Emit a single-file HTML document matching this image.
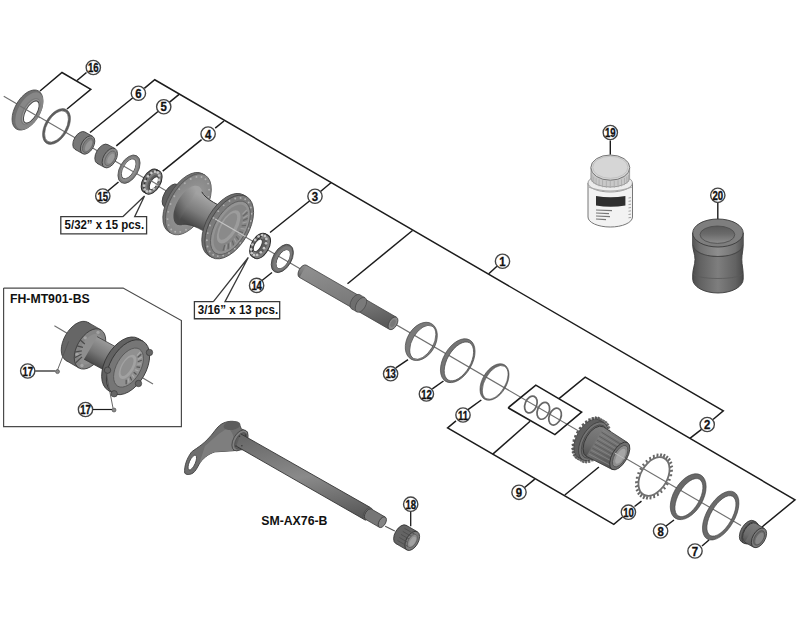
<!DOCTYPE html>
<html><head><meta charset="utf-8"><style>
html,body{margin:0;padding:0;background:#fff;}
svg{display:block;}
text{font-family:"Liberation Sans",sans-serif;font-weight:bold;fill:#111;}
</style></head><body>
<svg width="800" height="617" viewBox="0 0 800 617">
<defs>
<linearGradient id="gbar" x1="0.3" y1="0" x2="0.7" y2="1"><stop offset="0" stop-color="#9a9a9a"/><stop offset="0.5" stop-color="#7a7a7a"/><stop offset="1" stop-color="#4a4a4a"/></linearGradient>
<linearGradient id="gax" x1="0.3" y1="0" x2="0.6" y2="1"><stop offset="0" stop-color="#8e8e8e"/><stop offset="0.6" stop-color="#7a7a7a"/><stop offset="1" stop-color="#5a5a5a"/></linearGradient>
<linearGradient id="gfh" x1="0.4" y1="0" x2="0.6" y2="1"><stop offset="0" stop-color="#7e7e7e"/><stop offset="0.6" stop-color="#6c6c6c"/><stop offset="1" stop-color="#505050"/></linearGradient>
<linearGradient id="gsh" x1="0.4" y1="0" x2="0.6" y2="1"><stop offset="0" stop-color="#6a6a6a"/><stop offset="0.5" stop-color="#8a8a8a"/><stop offset="1" stop-color="#5a5a5a"/></linearGradient>
<linearGradient id="gbar2" gradientUnits="userSpaceOnUse" x1="212.3" y1="202.3" x2="197.3" y2="228.2"><stop offset="0" stop-color="#a2a2a2"/><stop offset="0.55" stop-color="#7c7c7c"/><stop offset="1" stop-color="#4a4a4a"/></linearGradient>
<linearGradient id="gbar3" gradientUnits="userSpaceOnUse" x1="112.3" y1="345.4" x2="99.3" y2="368"><stop offset="0" stop-color="#9a9a9a"/><stop offset="0.55" stop-color="#767676"/><stop offset="1" stop-color="#484848"/></linearGradient>
<radialGradient id="gfl" cx="0.55" cy="0.5" r="0.6"><stop offset="0.35" stop-color="#9a9a9a"/><stop offset="1" stop-color="#7e7e7e" stop-opacity="0.2"/></radialGradient>
<linearGradient id="gsp" x1="0" y1="0" x2="1" y2="0"><stop offset="0" stop-color="#4c4c4c"/><stop offset="0.15" stop-color="#626262"/><stop offset="0.5" stop-color="#7e7e7e"/><stop offset="0.85" stop-color="#626262"/><stop offset="1" stop-color="#4a4a4a"/></linearGradient>
<linearGradient id="gsp2" x1="0" y1="0" x2="1" y2="0"><stop offset="0" stop-color="#555"/><stop offset="0.15" stop-color="#727272"/><stop offset="0.5" stop-color="#8e8e8e"/><stop offset="0.85" stop-color="#727272"/><stop offset="1" stop-color="#525252"/></linearGradient>
<linearGradient id="gsph" x1="0" y1="0" x2="0" y2="1"><stop offset="0" stop-color="#5a5a5a"/><stop offset="0.45" stop-color="#6a6a6a"/><stop offset="1" stop-color="#8e8e8e"/></linearGradient>
</defs>
<rect width="800" height="617" fill="#fff"/>
<line x1="3.75" y1="96.2" x2="741" y2="525.5" stroke="#707070" stroke-width="1.15" />
<ellipse cx="27.5" cy="110" rx="12.5" ry="22" transform="rotate(30 27.5 110)" fill="#707070" stroke="#4a4a4a" stroke-width="0.8"/>
<ellipse cx="29.3" cy="111" rx="11" ry="20.5" transform="rotate(30 29.3 111)" fill="#878787"/>
<ellipse cx="30.6" cy="111.6" rx="7.6" ry="15" transform="rotate(30 30.6 111.6)" fill="#7a7a7a"/>
<ellipse cx="31" cy="111.8" rx="6.8" ry="13.8" transform="rotate(30 31 111.8)" fill="#a0a0a0"/>
<ellipse cx="31.3" cy="112" rx="5.6" ry="12.4" transform="rotate(30 31.3 112)" fill="#fff" stroke="#4a4a4a" stroke-width="1"/>
<line x1="20" y1="106" x2="40" y2="117.7" stroke="#707070" stroke-width="1.15" />
<path fill-rule="evenodd" d="M66.37 132.2A11.4 19.2 30 1 0 46.63 120.8A11.4 19.2 30 1 0 66.37 132.2ZM64.64 131.2A9.4 17 30 1 0 48.36 121.8A9.4 17 30 1 0 64.64 131.2Z" fill="#5e5e5e" stroke="#444" stroke-width="0.5"/>
<ellipse cx="80" cy="140.7" rx="6" ry="10" transform="rotate(30 80 140.7)" fill="#787878" stroke="#3c3c3c" stroke-width="0.8"/>
<polygon points="75,149.36 82.6,153.66 92.6,136.34 85,132.04" fill="#787878"/>
<line x1="75" y1="149.36" x2="82.6" y2="153.66" stroke="#3c3c3c" stroke-width="0.8"/>
<line x1="85" y1="132.04" x2="92.6" y2="136.34" stroke="#3c3c3c" stroke-width="0.8"/>
<ellipse cx="87.6" cy="145" rx="6" ry="10" transform="rotate(30 87.6 145)" fill="#8c8c8c" stroke="#3c3c3c" stroke-width="0.8"/>
<ellipse cx="87.9" cy="145.2" rx="4.4" ry="8" transform="rotate(30 87.9 145.2)" fill="#7e7e7e" stroke="#555" stroke-width="0.6"/>
<ellipse cx="88.6" cy="145.6" rx="2.6" ry="6" transform="rotate(30 88.6 145.6)" fill="#969696"/>
<ellipse cx="102.5" cy="154" rx="6.3" ry="10.8" transform="rotate(30 102.5 154)" fill="#747474" stroke="#3c3c3c" stroke-width="0.8"/>
<polygon points="97.1,163.35 104.4,167.35 115.2,148.65 107.9,144.65" fill="#747474"/>
<line x1="97.1" y1="163.35" x2="104.4" y2="167.35" stroke="#3c3c3c" stroke-width="0.8"/>
<line x1="107.9" y1="144.65" x2="115.2" y2="148.65" stroke="#3c3c3c" stroke-width="0.8"/>
<ellipse cx="109.8" cy="158" rx="6.3" ry="10.8" transform="rotate(30 109.8 158)" fill="#888888" stroke="#3c3c3c" stroke-width="0.8"/>
<ellipse cx="110.2" cy="158.3" rx="4.3" ry="8" transform="rotate(30 110.2 158.3)" fill="#888" stroke="#5a5a5a" stroke-width="0.6"/>
<ellipse cx="110.8" cy="158.6" rx="2.8" ry="5.5" transform="rotate(30 110.8 158.6)" fill="#9c9c9c"/>
<path fill-rule="evenodd" d="M136.88 173.75A9.1 15.3 30 1 0 121.12 164.65A9.1 15.3 30 1 0 136.88 173.75ZM133.55 171.6A5.6 11 30 1 0 123.85 166A5.6 11 30 1 0 133.55 171.6Z" fill="#7c7c7c" stroke="#444" stroke-width="0.8"/>
<path fill-rule="evenodd" d="M135.41 172.9A7.4 13.2 30 1 0 122.59 165.5A7.4 13.2 30 1 0 135.41 172.9ZM133.72 171.7A5.8 11.2 30 1 0 123.68 165.9A5.8 11.2 30 1 0 133.72 171.7Z" fill="#8c8c8c"/>
<ellipse cx="150.3" cy="180.9" rx="7.3" ry="13" transform="rotate(30 150.3 180.9)" fill="#6a6a6a" stroke="#2a2a2a" stroke-width="1"/>
<polygon points="143.8,192.16 146.5,193.66 159.5,171.14 156.8,169.64" fill="#6a6a6a"/>
<line x1="143.8" y1="192.16" x2="146.5" y2="193.66" stroke="#2a2a2a" stroke-width="1"/>
<line x1="156.8" y1="169.64" x2="159.5" y2="171.14" stroke="#2a2a2a" stroke-width="1"/>
<ellipse cx="153" cy="182.4" rx="7.3" ry="13" transform="rotate(30 153 182.4)" fill="#7c7c7c" stroke="#2a2a2a" stroke-width="1"/>
<ellipse cx="153" cy="182.4" rx="4.3" ry="8.8" transform="rotate(30 153 182.4)" fill="#5c5c5c"/>
<ellipse cx="153.9" cy="183.2" rx="3.3" ry="7.2" transform="rotate(30 153.9 183.2)" fill="#fff" stroke="#3a3a3a" stroke-width="0.9"/>
<circle cx="156.85" cy="184.65" r="1.35" fill="#c6c6c6"/>
<circle cx="153.69" cy="188.73" r="1.35" fill="#c6c6c6"/>
<circle cx="150.08" cy="191.19" r="1.35" fill="#c6c6c6"/>
<circle cx="146.82" cy="191.47" r="1.35" fill="#c6c6c6"/>
<circle cx="144.66" cy="189.49" r="1.35" fill="#c6c6c6"/>
<circle cx="144.11" cy="185.72" r="1.35" fill="#c6c6c6"/>
<circle cx="145.29" cy="181.02" r="1.35" fill="#c6c6c6"/>
<circle cx="147.92" cy="176.46" r="1.35" fill="#c6c6c6"/>
<circle cx="151.41" cy="173.09" r="1.35" fill="#c6c6c6"/>
<circle cx="154.95" cy="171.68" r="1.35" fill="#c6c6c6"/>
<circle cx="157.74" cy="172.55" r="1.35" fill="#c6c6c6"/>
<circle cx="159.13" cy="175.51" r="1.35" fill="#c6c6c6"/>
<circle cx="158.81" cy="179.88" r="1.35" fill="#c6c6c6"/>
<line x1="147" y1="178.6" x2="160" y2="186.1" stroke="#707070" stroke-width="1.15" />
<ellipse cx="171.04" cy="195.75" rx="7" ry="13" transform="rotate(30 171.04 195.75)" fill="#5e5e5e" stroke="#3a3a3a" stroke-width="0.8"/>
<polygon points="164.54,207 178.4,215 191.4,192.49 177.54,184.49" fill="#5e5e5e"/>
<line x1="164.54" y1="207" x2="178.4" y2="215" stroke="#3a3a3a" stroke-width="0.8"/>
<line x1="177.54" y1="184.49" x2="191.4" y2="192.49" stroke="#3a3a3a" stroke-width="0.8"/>
<ellipse cx="184.9" cy="203.75" rx="7" ry="13" transform="rotate(30 184.9 203.75)" fill="#6a6a6a" stroke="#3a3a3a" stroke-width="0.8"/>
<ellipse cx="185.76" cy="202.86" rx="18" ry="33.6" transform="rotate(30 185.76 202.86)" fill="#707070" stroke="#4a4a4a" stroke-width="0.8"/>
<polygon points="168.96,231.96 171.56,233.46 205.16,175.26 202.56,173.76" fill="#707070"/>
<line x1="168.96" y1="231.96" x2="171.56" y2="233.46" stroke="#4a4a4a" stroke-width="0.8"/>
<line x1="202.56" y1="173.76" x2="205.16" y2="175.26" stroke="#4a4a4a" stroke-width="0.8"/>
<ellipse cx="188.36" cy="204.36" rx="18" ry="33.6" transform="rotate(30 188.36 204.36)" fill="#8a8a8a" stroke="#4a4a4a" stroke-width="0.8"/>
<ellipse cx="188.36" cy="204.36" rx="18" ry="33.8" transform="rotate(30 188.36 204.36)" fill="url(#gfl)"/>
<circle cx="202.39" cy="212.46" r="0.95" fill="#b0b0b0"/>
<circle cx="197.51" cy="219.59" r="0.95" fill="#b0b0b0"/>
<circle cx="191.89" cy="225.5" r="0.95" fill="#b0b0b0"/>
<circle cx="185.98" cy="229.69" r="0.95" fill="#b0b0b0"/>
<circle cx="180.27" cy="231.83" r="0.95" fill="#b0b0b0"/>
<circle cx="175.21" cy="231.74" r="0.95" fill="#b0b0b0"/>
<circle cx="171.22" cy="229.43" r="0.95" fill="#b0b0b0"/>
<circle cx="168.61" cy="225.1" r="0.95" fill="#b0b0b0"/>
<circle cx="167.61" cy="219.08" r="0.95" fill="#b0b0b0"/>
<circle cx="168.28" cy="211.87" r="0.95" fill="#b0b0b0"/>
<circle cx="170.58" cy="204.05" r="0.95" fill="#b0b0b0"/>
<circle cx="174.33" cy="196.26" r="0.95" fill="#b0b0b0"/>
<circle cx="179.21" cy="189.12" r="0.95" fill="#b0b0b0"/>
<circle cx="184.83" cy="183.22" r="0.95" fill="#b0b0b0"/>
<circle cx="190.73" cy="179.02" r="0.95" fill="#b0b0b0"/>
<circle cx="196.45" cy="176.89" r="0.95" fill="#b0b0b0"/>
<circle cx="201.5" cy="176.97" r="0.95" fill="#b0b0b0"/>
<circle cx="205.5" cy="179.28" r="0.95" fill="#b0b0b0"/>
<circle cx="208.1" cy="183.62" r="0.95" fill="#b0b0b0"/>
<circle cx="209.11" cy="189.63" r="0.95" fill="#b0b0b0"/>
<circle cx="208.43" cy="196.84" r="0.95" fill="#b0b0b0"/>
<circle cx="206.13" cy="204.66" r="0.95" fill="#b0b0b0"/>
<ellipse cx="187.93" cy="205.5" rx="11" ry="22" transform="rotate(30 187.93 205.5)" fill="url(#gbar2)"/>
<path d="M176.93 224.55 Q189.28 223.65 198.43 228.3 L215.14 237.37 L230.14 211.39 L213.43 202.32 Q204.58 197.15 198.93 186.44 Z" fill="url(#gbar2)"/>
<path d="M183.11 224.1 Q189.28 223.65 198.43 228.3 L215.14 237.37" fill="none" stroke="#3a3a3a" stroke-width="0.9" stroke-opacity="0.6"/>
<path d="M201.76 191.8 Q204.58 197.15 213.43 202.32 L230.14 211.39" fill="none" stroke="#333" stroke-width="1"/>
<ellipse cx="226.17" cy="225.26" rx="19.6" ry="35" transform="rotate(30 226.17 225.26)" fill="#6c6c6c" stroke="#444" stroke-width="0.8"/>
<polygon points="208.67,255.57 211.7,257.32 246.7,196.7 243.67,194.95" fill="#6c6c6c"/>
<line x1="208.67" y1="255.57" x2="211.7" y2="257.32" stroke="#444" stroke-width="0.8"/>
<line x1="243.67" y1="194.95" x2="246.7" y2="196.7" stroke="#444" stroke-width="0.8"/>
<ellipse cx="229.2" cy="227.01" rx="19.6" ry="35" transform="rotate(30 229.2 227.01)" fill="#7c7c7c" stroke="#444" stroke-width="0.8"/>
<circle cx="244.79" cy="236.01" r="0.95" fill="#b0b0b0"/>
<circle cx="240.12" cy="242.88" r="0.95" fill="#b0b0b0"/>
<circle cx="234.7" cy="248.66" r="0.95" fill="#b0b0b0"/>
<circle cx="228.91" cy="252.97" r="0.95" fill="#b0b0b0"/>
<circle cx="223.14" cy="255.51" r="0.95" fill="#b0b0b0"/>
<circle cx="217.78" cy="256.11" r="0.95" fill="#b0b0b0"/>
<circle cx="213.2" cy="254.73" r="0.95" fill="#b0b0b0"/>
<circle cx="209.71" cy="251.45" r="0.95" fill="#b0b0b0"/>
<circle cx="207.55" cy="246.51" r="0.95" fill="#b0b0b0"/>
<circle cx="206.86" cy="240.25" r="0.95" fill="#b0b0b0"/>
<circle cx="207.7" cy="233.08" r="0.95" fill="#b0b0b0"/>
<circle cx="210" cy="225.49" r="0.95" fill="#b0b0b0"/>
<circle cx="213.61" cy="218.01" r="0.95" fill="#b0b0b0"/>
<circle cx="218.28" cy="211.15" r="0.95" fill="#b0b0b0"/>
<circle cx="223.7" cy="205.36" r="0.95" fill="#b0b0b0"/>
<circle cx="229.49" cy="201.05" r="0.95" fill="#b0b0b0"/>
<circle cx="235.26" cy="198.51" r="0.95" fill="#b0b0b0"/>
<circle cx="240.62" cy="197.92" r="0.95" fill="#b0b0b0"/>
<circle cx="245.2" cy="199.3" r="0.95" fill="#b0b0b0"/>
<circle cx="248.69" cy="202.57" r="0.95" fill="#b0b0b0"/>
<circle cx="250.85" cy="207.51" r="0.95" fill="#b0b0b0"/>
<circle cx="251.54" cy="213.78" r="0.95" fill="#b0b0b0"/>
<circle cx="250.7" cy="220.95" r="0.95" fill="#b0b0b0"/>
<circle cx="248.4" cy="228.53" r="0.95" fill="#b0b0b0"/>
<ellipse cx="230.4" cy="227.81" rx="15.5" ry="29.5" transform="rotate(30 230.4 227.81)" fill="#939393" stroke="#5a5a5a" stroke-width="0.8"/>
<ellipse cx="230.8" cy="228.01" rx="13" ry="26" transform="rotate(30 230.8 228.01)" fill="#858585"/>
<line x1="246.76" y1="209.79" x2="242.48" y2="214.31" stroke="#a0a0a0" stroke-width="1.2" />
<line x1="247.49" y1="212.26" x2="242.94" y2="216.1" stroke="#666" stroke-width="1.2" />
<line x1="247.8" y1="215.13" x2="243.09" y2="218.2" stroke="#a0a0a0" stroke-width="1.2" />
<line x1="247.67" y1="218.34" x2="242.92" y2="220.55" stroke="#666" stroke-width="1.2" />
<line x1="247.11" y1="221.79" x2="242.45" y2="223.09" stroke="#a0a0a0" stroke-width="1.2" />
<line x1="246.13" y1="225.4" x2="241.68" y2="225.75" stroke="#666" stroke-width="1.2" />
<line x1="244.77" y1="229.08" x2="240.63" y2="228.47" stroke="#a0a0a0" stroke-width="1.2" />
<line x1="243.04" y1="232.73" x2="239.33" y2="231.18" stroke="#666" stroke-width="1.2" />
<line x1="241" y1="236.26" x2="237.81" y2="233.81" stroke="#a0a0a0" stroke-width="1.2" />
<line x1="238.7" y1="239.58" x2="236.11" y2="236.3" stroke="#666" stroke-width="1.2" />
<line x1="236.2" y1="242.6" x2="234.28" y2="238.57" stroke="#a0a0a0" stroke-width="1.2" />
<line x1="233.57" y1="245.25" x2="232.36" y2="240.57" stroke="#666" stroke-width="1.2" />
<line x1="230.86" y1="247.46" x2="230.4" y2="242.25" stroke="#a0a0a0" stroke-width="1.2" />
<line x1="228.15" y1="249.18" x2="228.44" y2="243.56" stroke="#666" stroke-width="1.2" />
<line x1="225.5" y1="250.35" x2="226.55" y2="244.48" stroke="#a0a0a0" stroke-width="1.2" />
<line x1="223" y1="250.95" x2="224.77" y2="244.98" stroke="#666" stroke-width="1.2" />
<ellipse cx="228.7" cy="226.81" rx="8.5" ry="18.5" transform="rotate(30 228.7 226.81)" fill="#9c9c9c"/>
<ellipse cx="228" cy="226.41" rx="6" ry="15" transform="rotate(30 228 226.41)" fill="#8a8a8a"/>
<line x1="215.2" y1="218.91" x2="244.2" y2="235.71" stroke="#c4c4c4" stroke-width="1.15" />
<ellipse cx="258.8" cy="245.2" rx="7.3" ry="13.2" transform="rotate(30 258.8 245.2)" fill="#6a6a6a" stroke="#2a2a2a" stroke-width="1"/>
<polygon points="252.2,256.63 254.8,258.13 268,235.27 265.4,233.77" fill="#6a6a6a"/>
<line x1="252.2" y1="256.63" x2="254.8" y2="258.13" stroke="#2a2a2a" stroke-width="1"/>
<line x1="265.4" y1="233.77" x2="268" y2="235.27" stroke="#2a2a2a" stroke-width="1"/>
<ellipse cx="261.4" cy="246.7" rx="7.3" ry="13.2" transform="rotate(30 261.4 246.7)" fill="#7c7c7c" stroke="#2a2a2a" stroke-width="1"/>
<ellipse cx="261.4" cy="246.7" rx="4.3" ry="9" transform="rotate(30 261.4 246.7)" fill="#5c5c5c"/>
<ellipse cx="257.8" cy="245.3" rx="3.3" ry="7" transform="rotate(30 257.8 245.3)" fill="#fff" stroke="#3a3a3a" stroke-width="0.9"/>
<circle cx="264" cy="248.2" r="1.35" fill="#c6c6c6"/>
<circle cx="260.8" cy="252.36" r="1.35" fill="#c6c6c6"/>
<circle cx="257.14" cy="254.89" r="1.35" fill="#c6c6c6"/>
<circle cx="253.87" cy="255.19" r="1.35" fill="#c6c6c6"/>
<circle cx="251.72" cy="253.21" r="1.35" fill="#c6c6c6"/>
<circle cx="251.2" cy="249.39" r="1.35" fill="#c6c6c6"/>
<circle cx="252.41" cy="244.61" r="1.35" fill="#c6c6c6"/>
<circle cx="255.1" cy="239.97" r="1.35" fill="#c6c6c6"/>
<circle cx="258.62" cy="236.52" r="1.35" fill="#c6c6c6"/>
<circle cx="262.19" cy="235.07" r="1.35" fill="#c6c6c6"/>
<circle cx="264.99" cy="235.93" r="1.35" fill="#c6c6c6"/>
<circle cx="266.36" cy="238.92" r="1.35" fill="#c6c6c6"/>
<circle cx="266" cy="243.35" r="1.35" fill="#c6c6c6"/>
<path fill-rule="evenodd" d="M290.27 263.1A9.2 15.4 30 1 0 274.33 253.9A9.2 15.4 30 1 0 290.27 263.1ZM287.96 261.95A5.5 10.3 30 1 0 278.44 256.45A5.5 10.3 30 1 0 287.96 261.95Z" fill="#686868" stroke="#333" stroke-width="0.8"/>
<path fill-rule="evenodd" d="M289.18 262.5A7.6 13.4 30 1 0 276.02 254.9A7.6 13.4 30 1 0 289.18 262.5ZM288.14 262.05A5.7 10.5 30 1 0 278.26 256.35A5.7 10.5 30 1 0 288.14 262.05Z" fill="#7a7a7a"/>
<ellipse cx="302.93" cy="271.31" rx="4" ry="7" transform="rotate(30 302.93 271.31)" fill="url(#gax)" stroke="#444" stroke-width="0.8"/>
<polygon points="299.43,277.38 389.49,329.38 396.49,317.25 306.43,265.25" fill="url(#gax)"/>
<line x1="299.43" y1="277.38" x2="389.49" y2="329.38" stroke="#444" stroke-width="0.8"/>
<line x1="306.43" y1="265.25" x2="396.49" y2="317.25" stroke="#444" stroke-width="0.8"/>
<ellipse cx="392.99" cy="323.31" rx="4" ry="7" transform="rotate(30 392.99 323.31)" fill="#888" stroke="#444" stroke-width="0.8"/>
<ellipse cx="355.76" cy="301.81" rx="4.6" ry="8.2" transform="rotate(30 355.76 301.81)" fill="#6e6e6e" stroke="#444" stroke-width="0.6"/>
<polygon points="351.66,308.91 356.85,311.91 365.05,297.71 359.86,294.71" fill="#6e6e6e"/>
<line x1="351.66" y1="308.91" x2="356.85" y2="311.91" stroke="#444" stroke-width="0.6"/>
<line x1="359.86" y1="294.71" x2="365.05" y2="297.71" stroke="#444" stroke-width="0.6"/>
<ellipse cx="360.95" cy="304.81" rx="4.6" ry="8.2" transform="rotate(30 360.95 304.81)" fill="#7a7a7a" stroke="#444" stroke-width="0.6"/>
<ellipse cx="392.99" cy="323.31" rx="2.2" ry="4" transform="rotate(30 392.99 323.31)" fill="#777"/>
<path fill-rule="evenodd" d="M433.6 348.5A14.2 20.5 30 1 0 409 334.3A14.2 20.5 30 1 0 433.6 348.5ZM431.98 347.6A10.6 18.6 30 1 0 413.62 337A10.6 18.6 30 1 0 431.98 347.6Z" fill="#7a7a7a" stroke="#444" stroke-width="0.7"/>
<path fill-rule="evenodd" d="M470.13 367.85A14.3 23.4 30 1 0 445.37 353.55A14.3 23.4 30 1 0 470.13 367.85ZM468.95 367.2A11.6 21.4 30 1 0 448.85 355.6A11.6 21.4 30 1 0 468.95 367.2Z" fill="#747474" stroke="#444" stroke-width="0.7"/>
<path fill-rule="evenodd" d="M505.07 388.1A12.2 19.9 30 1 0 483.93 375.9A12.2 19.9 30 1 0 505.07 388.1ZM504.03 387.5A10.2 18.1 30 1 0 486.37 377.3A10.2 18.1 30 1 0 504.03 387.5Z" fill="#6c6c6c" stroke="#444" stroke-width="0.6"/>
<polyline points="508.1,407.8 535.8,385.1 581.6,412.1 554.9,434.6 508.1,407.8" fill="none" stroke="#1c1c1c" stroke-width="1.6" stroke-linejoin="miter" />
<ellipse cx="530.9" cy="404.5" rx="5.8" ry="8.8" transform="rotate(22 530.9 404.5)" fill="none" stroke="#666" stroke-width="1.7"/>
<ellipse cx="543.3" cy="410.8" rx="5.8" ry="8.8" transform="rotate(22 543.3 410.8)" fill="none" stroke="#666" stroke-width="1.7"/>
<ellipse cx="555.1" cy="416.6" rx="5.8" ry="8.8" transform="rotate(22 555.1 416.6)" fill="none" stroke="#666" stroke-width="1.7"/>
<path d="M598.8 444.45L600.67 445.53M596.36 448.15L597.91 449.69M593.59 451.44L594.75 453.38M590.59 454.16L591.31 456.41M587.51 456.2L587.75 458.66M584.47 457.47L584.24 460.04M581.61 457.91L580.91 460.47M579.06 457.51L577.91 459.95M576.92 456.27L575.38 458.49M575.3 454.27L573.43 456.16M574.25 451.57L572.15 453.06M573.83 448.31L571.58 449.32M574.06 444.61L571.75 445.12M574.92 440.66L572.66 440.62M576.37 436.61L574.26 436.04M578.36 432.65L576.49 431.57M580.8 428.94L579.25 427.4M583.58 425.65L582.42 423.71M586.58 422.93L585.86 420.68M589.66 420.89L589.41 418.43M592.7 419.62L592.93 417.06M595.55 419.18L596.26 416.62M598.11 419.58L599.25 417.14M600.24 420.82L601.78 418.6M601.87 422.82L603.73 420.93M602.92 425.52L605.02 424.04M603.33 428.78L605.59 427.77M603.11 432.48L605.42 431.98M602.25 436.43L604.51 436.47M600.79 440.48L602.9 441.05" stroke="#5a5a5a" stroke-width="2.5"/>
<path d="M603.56 447.2L605.44 448.28M601.13 450.9L602.68 452.44M598.35 454.19L599.51 456.13M595.35 456.91L596.07 459.16M592.27 458.95L592.52 461.41M589.23 460.22L589 462.79M586.37 460.66L585.67 463.22M583.82 460.26L582.68 462.7M581.69 459.02L580.15 461.24M580.06 457.02L578.2 458.91M579.01 454.32L576.91 455.81M578.59 451.06L576.34 452.07M578.82 447.36L576.51 447.87M579.68 443.41L577.42 443.37M581.14 439.36L579.03 438.79M583.13 435.4L581.26 434.32M585.56 431.69L584.02 430.15M588.34 428.4L587.18 426.46M591.34 425.68L590.62 423.43M594.42 423.64L594.17 421.18M597.46 422.37L597.69 419.81M600.32 421.93L601.02 419.37M602.87 422.33L604.02 419.89M605.01 423.57L606.54 421.35M606.63 425.57L608.49 423.68M607.68 428.27L609.78 426.79M608.1 431.53L610.35 430.52M607.87 435.23L610.18 434.73M607.01 439.18L609.27 439.22M605.56 443.23L607.67 443.8" stroke="#6a6a6a" stroke-width="2.5"/>
<ellipse cx="588.58" cy="438.55" rx="11.8" ry="21.3" transform="rotate(30 588.58 438.55)" fill="#5e5e5e" stroke="#404040" stroke-width="0.8"/>
<polygon points="577.93,456.99 582.7,459.74 604,422.85 599.23,420.1" fill="#5e5e5e"/>
<line x1="577.93" y1="456.99" x2="582.7" y2="459.74" stroke="#404040" stroke-width="0.8" />
<line x1="599.23" y1="420.1" x2="604" y2="422.85" stroke="#404040" stroke-width="0.8" />
<ellipse cx="593.35" cy="441.3" rx="11.8" ry="21.3" transform="rotate(30 593.35 441.3)" fill="#737373" stroke="#404040" stroke-width="0.8"/>
<ellipse cx="593.95" cy="441.6" rx="10" ry="18.5" transform="rotate(30 593.95 441.6)" fill="#666" stroke="#4a4a4a" stroke-width="0.8"/>
<ellipse cx="594.89" cy="441.61" rx="9.5" ry="17" transform="rotate(30 594.89 441.61)" fill="url(#gfh)" stroke="#333" stroke-width="0.8"/>
<polygon points="586.39,456.33 612,469.39 627.5,442.54 603.39,426.89" fill="url(#gfh)"/>
<line x1="586.39" y1="456.33" x2="612" y2="469.39" stroke="#333" stroke-width="0.8" />
<line x1="603.39" y1="426.89" x2="627.5" y2="442.54" stroke="#333" stroke-width="0.8" />
<line x1="602.66" y1="430.16" x2="625.44" y2="444.7" stroke="#848484" stroke-width="0.9" />
<line x1="601.51" y1="432.15" x2="624.39" y2="446.52" stroke="#5a5a5a" stroke-width="0.9" />
<line x1="600.36" y1="434.14" x2="623.34" y2="448.34" stroke="#848484" stroke-width="0.9" />
<line x1="599.21" y1="436.14" x2="622.29" y2="450.16" stroke="#5a5a5a" stroke-width="0.9" />
<line x1="598.06" y1="438.13" x2="621.24" y2="451.97" stroke="#848484" stroke-width="0.9" />
<line x1="596.91" y1="440.12" x2="620.19" y2="453.79" stroke="#5a5a5a" stroke-width="0.9" />
<line x1="595.76" y1="442.11" x2="619.14" y2="455.61" stroke="#848484" stroke-width="0.9" />
<line x1="594.61" y1="444.1" x2="618.09" y2="457.43" stroke="#5a5a5a" stroke-width="0.9" />
<line x1="593.46" y1="446.1" x2="617.04" y2="459.25" stroke="#848484" stroke-width="0.9" />
<line x1="592.31" y1="448.09" x2="615.99" y2="461.07" stroke="#5a5a5a" stroke-width="0.9" />
<line x1="591.16" y1="450.08" x2="614.94" y2="462.89" stroke="#848484" stroke-width="0.9" />
<line x1="590.01" y1="452.07" x2="613.89" y2="464.71" stroke="#5a5a5a" stroke-width="0.9" />
<line x1="588.86" y1="454.06" x2="612.84" y2="466.52" stroke="#848484" stroke-width="0.9" />
<ellipse cx="619.75" cy="455.96" rx="7.5" ry="15.5" transform="rotate(30 619.75 455.96)" fill="#6e6e6e" stroke="#333" stroke-width="0.8"/>
<ellipse cx="620.15" cy="456.16" rx="5.6" ry="12" transform="rotate(30 620.15 456.16)" fill="#8e8e8e" stroke="#4a4a4a" stroke-width="0.7"/>
<ellipse cx="620.35" cy="456.26" rx="3.6" ry="8.5" transform="rotate(30 620.35 456.26)" fill="#a6a6a6"/>
<line x1="614.75" y1="453.06" x2="624.75" y2="458.86" stroke="#bcbcbc" stroke-width="1" />
<path d="M665.95 483.4L668.31 484.76M663.45 487.12L665.41 489.06M660.55 490.38L662.01 492.82M657.35 493.03L658.26 495.86M654.01 494.95L654.32 498.05M650.67 496.07L650.37 499.31M647.47 496.34L646.58 499.56M644.56 495.74L643.11 498.81M642.06 494.3L640.12 497.08M640.08 492.08L637.74 494.46M638.71 489.18L636.06 491.05M638.01 485.72L635.17 487M638.01 481.86L635.11 482.49M638.71 477.77L635.87 477.72M640.07 473.62L637.42 472.9M642.05 469.6L639.69 468.24M644.55 465.88L642.59 463.94M647.45 462.62L645.99 460.18M650.65 459.97L649.74 457.14M653.99 458.05L653.68 454.95M657.33 456.93L657.63 453.69M660.53 456.66L661.42 453.44M663.44 457.26L664.89 454.19M665.94 458.7L667.88 455.92M667.92 460.92L670.26 458.54M669.29 463.82L671.94 461.95M669.99 467.28L672.83 466M669.99 471.14L672.89 470.51M669.29 475.23L672.13 475.28M667.93 479.38L670.58 480.1" stroke="#686868" stroke-width="1.9"/>
<path fill-rule="evenodd" d="M666.3 483.6A14.2 22 30 1 0 641.7 469.4A14.2 22 30 1 0 666.3 483.6ZM664.74 482.7A12.4 20 30 1 0 643.26 470.3A12.4 20 30 1 0 664.74 482.7Z" fill="#707070"/>
<path fill-rule="evenodd" d="M701.02 504.1A14.8 25.1 30 1 0 675.38 489.3A14.8 25.1 30 1 0 701.02 504.1ZM698.08 502.9A10.6 21.1 30 1 0 679.72 492.3A10.6 21.1 30 1 0 698.08 502.9Z" fill="#686868" stroke="#3a3a3a" stroke-width="0.6"/>
<path fill-rule="evenodd" d="M732.82 522.6A14 26.4 30 1 0 708.58 508.6A14 26.4 30 1 0 732.82 522.6ZM730.49 521.15A10.5 22 30 1 0 712.31 510.65A10.5 22 30 1 0 730.49 521.15Z" fill="#6a6a6a" stroke="#3a3a3a" stroke-width="0.6"/>
<ellipse cx="747.96" cy="531.49" rx="7" ry="12.2" transform="rotate(30 747.96 531.49)" fill="#666" stroke="#3a3a3a" stroke-width="0.8"/>
<polygon points="741.86,542.05 744.2,543.4 756.4,522.27 754.06,520.92" fill="#666"/>
<line x1="741.86" y1="542.05" x2="744.2" y2="543.4" stroke="#3a3a3a" stroke-width="0.8" />
<line x1="754.06" y1="520.92" x2="756.4" y2="522.27" stroke="#3a3a3a" stroke-width="0.8" />
<ellipse cx="750.3" cy="532.84" rx="7" ry="12.2" transform="rotate(30 750.3 532.84)" fill="#727272" stroke="#3a3a3a" stroke-width="0.8"/>
<ellipse cx="750.3" cy="532.84" rx="6.3" ry="11" transform="rotate(30 750.3 532.84)" fill="url(#gfh)" stroke="#333" stroke-width="0.8"/>
<polygon points="744.8,542.36 753.56,547.19 764.36,528.48 755.8,523.31" fill="url(#gfh)"/>
<line x1="744.8" y1="542.36" x2="753.56" y2="547.19" stroke="#333" stroke-width="0.8" />
<line x1="755.8" y1="523.31" x2="764.36" y2="528.48" stroke="#333" stroke-width="0.8" />
<ellipse cx="758.96" cy="537.84" rx="6.2" ry="10.8" transform="rotate(30 758.96 537.84)" fill="#7a7a7a" stroke="#333" stroke-width="0.8"/>
<ellipse cx="759.16" cy="537.94" rx="4.4" ry="8" transform="rotate(30 759.16 537.94)" fill="#6a6a6a" stroke="#4a4a4a" stroke-width="0.6"/>
<ellipse cx="759.56" cy="538.44" rx="3.2" ry="6.5" transform="rotate(30 759.56 538.44)" fill="#878787"/>
<polyline points="40,91 62,72.5 90.8,89.4 67,109" fill="none" stroke="#1c1c1c" stroke-width="1.5" stroke-linejoin="miter" />
<line x1="77" y1="80.5" x2="86.5" y2="72.5" stroke="#1c1c1c" stroke-width="1.5" />
<circle cx="93.3" cy="67.5" r="7.15" fill="#fff" stroke="#454545" stroke-width="1.4"/>
<text transform="translate(93.3 72.1) scale(0.8 1)" font-size="12" text-anchor="middle" letter-spacing="-0.2" stroke="#111" stroke-width="0.35">16</text>
<polyline points="144.3,88.4 154.75,79.75 723.3,410.9 713,419.5" fill="none" stroke="#1c1c1c" stroke-width="1.5" stroke-linejoin="miter" />
<circle cx="138.4" cy="93.25" r="7.15" fill="#fff" stroke="#454545" stroke-width="1.4"/>
<text transform="translate(138.4 97.85) scale(0.95 1)" font-size="12" text-anchor="middle" stroke="#111" stroke-width="0.3">6</text>
<line x1="132.6" y1="98" x2="90" y2="132.5" stroke="#1c1c1c" stroke-width="1.5" />
<line x1="179.1" y1="94.4" x2="169" y2="102.6" stroke="#1c1c1c" stroke-width="1.5" />
<circle cx="163.75" cy="106.75" r="7.15" fill="#fff" stroke="#454545" stroke-width="1.4"/>
<text transform="translate(163.75 111.35) scale(0.95 1)" font-size="12" text-anchor="middle" stroke="#111" stroke-width="0.3">5</text>
<line x1="158" y1="111.5" x2="116.3" y2="145.8" stroke="#1c1c1c" stroke-width="1.5" />
<line x1="224" y1="121" x2="215.2" y2="128.2" stroke="#1c1c1c" stroke-width="1.5" />
<circle cx="208.1" cy="134" r="7.15" fill="#fff" stroke="#454545" stroke-width="1.4"/>
<text transform="translate(208.1 138.6) scale(0.95 1)" font-size="12" text-anchor="middle" stroke="#111" stroke-width="0.3">4</text>
<line x1="201.6" y1="139.6" x2="162.7" y2="171.2" stroke="#1c1c1c" stroke-width="1.5" />
<circle cx="102.8" cy="196" r="7.15" fill="#fff" stroke="#454545" stroke-width="1.4"/>
<text transform="translate(102.8 200.6) scale(0.8 1)" font-size="12" text-anchor="middle" letter-spacing="-0.2" stroke="#111" stroke-width="0.35">15</text>
<line x1="108" y1="190.8" x2="118.5" y2="182" stroke="#1c1c1c" stroke-width="1.5" />
<polyline points="122.8,216.7 60.8,216.7 60.8,233.9 146.6,233.9 146.6,216.7 134.7,216.7 144.5,196 122.8,216.7" fill="none" stroke="#3a3a3a" stroke-width="1.3" stroke-linejoin="miter" />
<text x="64.6" y="228.7" font-size="12" textLength="79.5" lengthAdjust="spacingAndGlyphs">5/32&#8221; x 15 pcs.</text>
<line x1="331.25" y1="182.5" x2="320.5" y2="191.5" stroke="#1c1c1c" stroke-width="1.5" />
<circle cx="315" cy="196.25" r="7.15" fill="#fff" stroke="#454545" stroke-width="1.4"/>
<text transform="translate(315 200.85) scale(0.95 1)" font-size="12" text-anchor="middle" stroke="#111" stroke-width="0.3">3</text>
<line x1="309.5" y1="201" x2="270" y2="232.5" stroke="#1c1c1c" stroke-width="1.5" />
<polyline points="213.4,301.6 194.4,301.6 194.4,318.75 279.7,318.75 279.7,301.6 225,301.6 248.3,257.5 213.4,301.6" fill="none" stroke="#3a3a3a" stroke-width="1.3" stroke-linejoin="miter" />
<text x="197.8" y="313.8" font-size="12" textLength="80.3" lengthAdjust="spacingAndGlyphs">3/16&#8221; x 13 pcs.</text>
<circle cx="256.6" cy="285.4" r="7.15" fill="#fff" stroke="#454545" stroke-width="1.4"/>
<text transform="translate(256.6 290) scale(0.8 1)" font-size="12" text-anchor="middle" letter-spacing="-0.2" stroke="#111" stroke-width="0.35">14</text>
<line x1="262" y1="280.5" x2="272" y2="272.5" stroke="#1c1c1c" stroke-width="1.5" />
<line x1="412.5" y1="230.5" x2="347.5" y2="283.75" stroke="#1c1c1c" stroke-width="1.5" />
<line x1="488.75" y1="273.75" x2="497" y2="266.2" stroke="#1c1c1c" stroke-width="1.5" />
<circle cx="502.5" cy="261.25" r="7.15" fill="#fff" stroke="#454545" stroke-width="1.4"/>
<text transform="translate(502.5 265.85) scale(0.95 1)" font-size="12" text-anchor="middle" stroke="#111" stroke-width="0.3">1</text>
<circle cx="707.2" cy="424.5" r="7.15" fill="#fff" stroke="#454545" stroke-width="1.4"/>
<text transform="translate(707.2 429.1) scale(0.95 1)" font-size="12" text-anchor="middle" stroke="#111" stroke-width="0.3">2</text>
<line x1="701.5" y1="429.4" x2="690.2" y2="438.2" stroke="#1c1c1c" stroke-width="1.5" />
<polyline points="559,398.6 585.2,377.2 795,499.8 762,527" fill="none" stroke="#1c1c1c" stroke-width="1.5" stroke-linejoin="miter" />
<circle cx="390.6" cy="373.7" r="7.15" fill="#fff" stroke="#454545" stroke-width="1.4"/>
<text transform="translate(390.6 378.3) scale(0.8 1)" font-size="12" text-anchor="middle" letter-spacing="-0.2" stroke="#111" stroke-width="0.35">13</text>
<line x1="395.8" y1="367.9" x2="408" y2="359.6" stroke="#1c1c1c" stroke-width="1.5" />
<circle cx="426.4" cy="394" r="7.15" fill="#fff" stroke="#454545" stroke-width="1.4"/>
<text transform="translate(426.4 398.6) scale(0.8 1)" font-size="12" text-anchor="middle" letter-spacing="-0.2" stroke="#111" stroke-width="0.35">12</text>
<line x1="432.3" y1="388.8" x2="443.5" y2="381" stroke="#1c1c1c" stroke-width="1.5" />
<circle cx="463" cy="415" r="7.15" fill="#fff" stroke="#454545" stroke-width="1.4"/>
<text transform="translate(463 419.6) scale(0.8 1)" font-size="12" text-anchor="middle" letter-spacing="-0.2" stroke="#111" stroke-width="0.35">11</text>
<line x1="468" y1="409.6" x2="481.3" y2="400" stroke="#1c1c1c" stroke-width="1.5" />
<polyline points="456,420.8 447.6,427.8 613.8,524.3 622.5,517" fill="none" stroke="#1c1c1c" stroke-width="1.5" stroke-linejoin="miter" />
<line x1="492.8" y1="454.1" x2="530.1" y2="421.3" stroke="#1c1c1c" stroke-width="1.5" />
<line x1="564.8" y1="495" x2="598.9" y2="467" stroke="#1c1c1c" stroke-width="1.5" />
<line x1="534.8" y1="479.1" x2="524" y2="488" stroke="#1c1c1c" stroke-width="1.5" />
<circle cx="519" cy="492.3" r="7.15" fill="#fff" stroke="#454545" stroke-width="1.4"/>
<text transform="translate(519 496.9) scale(0.95 1)" font-size="12" text-anchor="middle" stroke="#111" stroke-width="0.3">9</text>
<circle cx="628.4" cy="512.2" r="7.15" fill="#fff" stroke="#454545" stroke-width="1.4"/>
<text transform="translate(628.4 516.8) scale(0.8 1)" font-size="12" text-anchor="middle" letter-spacing="-0.2" stroke="#111" stroke-width="0.35">10</text>
<line x1="634.5" y1="506.5" x2="641.5" y2="501.2" stroke="#1c1c1c" stroke-width="1.5" />
<circle cx="660.6" cy="531" r="7.15" fill="#fff" stroke="#454545" stroke-width="1.4"/>
<text transform="translate(660.6 535.6) scale(0.95 1)" font-size="12" text-anchor="middle" stroke="#111" stroke-width="0.3">8</text>
<line x1="666" y1="526" x2="674" y2="520" stroke="#1c1c1c" stroke-width="1.5" />
<circle cx="695" cy="551" r="7.15" fill="#fff" stroke="#454545" stroke-width="1.4"/>
<text transform="translate(695 555.6) scale(0.95 1)" font-size="12" text-anchor="middle" stroke="#111" stroke-width="0.3">7</text>
<line x1="702" y1="546" x2="709" y2="540" stroke="#1c1c1c" stroke-width="1.5" />
<circle cx="610.3" cy="132.5" r="7.15" fill="#fff" stroke="#454545" stroke-width="1.4"/>
<text transform="translate(610.3 137.1) scale(0.8 1)" font-size="12" text-anchor="middle" letter-spacing="-0.2" stroke="#111" stroke-width="0.35">19</text>
<line x1="610.3" y1="140.5" x2="610.3" y2="154.7" stroke="#1c1c1c" stroke-width="1.4" />
<path d="M588 183 L588 217 A22.2 10 0 0 0 632.5 217 L632.5 183 Z" fill="#f2f2f2" stroke="#777" stroke-width="1"/>
<ellipse cx="610.2" cy="183" rx="22.2" ry="9" fill="#ececec" stroke="#888" stroke-width="0.8"/>
<path d="M591 168 L591 179 A19.4 9 0 0 0 629.6 179 L629.6 168 Z" fill="#c8c8c8" stroke="#888" stroke-width="0.8"/>
<line x1="591.15" y1="173.13" x2="591.15" y2="180.13" stroke="#a8a8a8" stroke-width="0.8"/>
<line x1="592.05" y1="174.93" x2="592.05" y2="181.93" stroke="#a8a8a8" stroke-width="0.8"/>
<line x1="593.73" y1="176.62" x2="593.73" y2="183.62" stroke="#a8a8a8" stroke-width="0.8"/>
<line x1="596.11" y1="178.1" x2="596.11" y2="185.1" stroke="#a8a8a8" stroke-width="0.8"/>
<line x1="599.1" y1="179.33" x2="599.1" y2="186.33" stroke="#a8a8a8" stroke-width="0.8"/>
<line x1="602.56" y1="180.24" x2="602.56" y2="187.24" stroke="#a8a8a8" stroke-width="0.8"/>
<line x1="606.34" y1="180.81" x2="606.34" y2="187.81" stroke="#a8a8a8" stroke-width="0.8"/>
<line x1="610.3" y1="181" x2="610.3" y2="188" stroke="#a8a8a8" stroke-width="0.8"/>
<line x1="614.26" y1="180.81" x2="614.26" y2="187.81" stroke="#a8a8a8" stroke-width="0.8"/>
<line x1="618.04" y1="180.24" x2="618.04" y2="187.24" stroke="#a8a8a8" stroke-width="0.8"/>
<line x1="621.5" y1="179.33" x2="621.5" y2="186.33" stroke="#a8a8a8" stroke-width="0.8"/>
<line x1="624.49" y1="178.1" x2="624.49" y2="185.1" stroke="#a8a8a8" stroke-width="0.8"/>
<line x1="626.87" y1="176.62" x2="626.87" y2="183.62" stroke="#a8a8a8" stroke-width="0.8"/>
<line x1="628.55" y1="174.93" x2="628.55" y2="181.93" stroke="#a8a8a8" stroke-width="0.8"/>
<line x1="629.45" y1="173.13" x2="629.45" y2="180.13" stroke="#a8a8a8" stroke-width="0.8"/>
<ellipse cx="610.3" cy="167.6" rx="19.5" ry="12.6" fill="#d6d6d6" stroke="#777" stroke-width="1"/>
<ellipse cx="610.3" cy="167.3" rx="17.6" ry="11" fill="none" stroke="#bbb" stroke-width="0.8"/>
<path d="M588.5 187 Q610.3 195 632 187" fill="none" stroke="#aaa" stroke-width="1.2"/>
<line x1="628.5" y1="198" x2="631" y2="197.6" stroke="#999" stroke-width="0.9"/>
<line x1="628.5" y1="201.3" x2="631" y2="200.9" stroke="#999" stroke-width="0.9"/>
<line x1="628.5" y1="204.6" x2="631" y2="204.2" stroke="#999" stroke-width="0.9"/>
<line x1="628.5" y1="207.9" x2="631" y2="207.5" stroke="#999" stroke-width="0.9"/>
<line x1="628.5" y1="211.2" x2="631" y2="210.8" stroke="#999" stroke-width="0.9"/>
<line x1="628.5" y1="214.5" x2="631" y2="214.1" stroke="#999" stroke-width="0.9"/>
<line x1="628.5" y1="217.8" x2="631" y2="217.4" stroke="#999" stroke-width="0.9"/>
<path d="M596 196 Q610.5 198.5 625.4 196 L625.4 205.5 Q610.5 208 596 205.5 Z" fill="#2e2e2e"/>
<line x1="596" y1="210" x2="612" y2="210.6" stroke="#777" stroke-width="1.2"/>
<line x1="596" y1="213" x2="609" y2="213.6" stroke="#777" stroke-width="1.2"/>
<line x1="596" y1="216" x2="610" y2="216.6" stroke="#777" stroke-width="1.2"/>
<line x1="596" y1="219" x2="606" y2="219.6" stroke="#777" stroke-width="1.2"/>
<circle cx="717.8" cy="195.3" r="7.15" fill="#fff" stroke="#454545" stroke-width="1.4"/>
<text transform="translate(717.8 199.9) scale(0.8 1)" font-size="12" text-anchor="middle" letter-spacing="-0.2" stroke="#111" stroke-width="0.35">20</text>
<line x1="717.8" y1="203" x2="717.8" y2="219" stroke="#1c1c1c" stroke-width="1.4" />
<path d="M692.7 233 L692.7 245 C692.7 250 695 254 695 259.5 C695 265 692.7 269 692.7 275 L692.7 279 A25.25 14 0 0 0 743.2 279 L743.2 275 C743.2 269 741.8 265 741.8 259.5 C741.8 254 743.2 250 743.2 245 L743.2 233 Z" fill="url(#gsp)" stroke="#3a3a3a" stroke-width="0.9"/>
<path d="M692.9 233 L692.9 244.8 A25 11.2 0 0 0 743 244.8 L743 233 Z" fill="url(#gsp2)"/>
<path d="M693.3 245.3 A24.6 11.2 0 0 0 742.6 245.3" fill="none" stroke="#4a4a4a" stroke-width="1.1"/>
<path d="M693.3 273.5 A24.6 5 0 0 0 742.6 273.5" fill="none" stroke="#5a5a5a" stroke-width="0.8"/>
<ellipse cx="717.95" cy="233" rx="25.25" ry="14" fill="#7e7e7e" stroke="#3a3a3a" stroke-width="0.9"/>
<ellipse cx="717.4" cy="234.7" rx="17.4" ry="8.7" fill="url(#gsph)" stroke="#4a4a4a" stroke-width="0.8"/>
<polyline points="3.6,288.1 123.1,288.1 181.4,320.5 181.4,426.6 3.6,426.6 3.6,288.1" fill="none" stroke="#4a4a4a" stroke-width="1.2" stroke-linejoin="miter" />
<text x="10" y="303.3" font-size="12" textLength="79.7" lengthAdjust="spacingAndGlyphs">FH-MT901-BS</text>
<line x1="54.4" y1="325.7" x2="153" y2="384" stroke="#707070" stroke-width="1.15" />
<ellipse cx="76.99" cy="341.44" rx="13" ry="22" transform="rotate(30 76.99 341.44)" fill="#666" stroke="#3a3a3a" stroke-width="0.8"/>
<polygon points="65.99,360.49 78.98,367.99 100.98,329.89 87.99,322.39" fill="#666"/>
<line x1="65.99" y1="360.49" x2="78.98" y2="367.99" stroke="#3a3a3a" stroke-width="0.8"/>
<line x1="87.99" y1="322.39" x2="100.98" y2="329.89" stroke="#3a3a3a" stroke-width="0.8"/>
<ellipse cx="89.98" cy="348.94" rx="13" ry="22" transform="rotate(30 89.98 348.94)" fill="#848484" stroke="#3a3a3a" stroke-width="0.8"/>
<ellipse cx="90.48" cy="349.24" rx="9.5" ry="17" transform="rotate(30 90.48 349.24)" fill="#8e8e8e"/>
<circle cx="94.76" cy="360.02" r="1.7" fill="#a4a4a4"/>
<circle cx="81.93" cy="365.49" r="1.7" fill="#a4a4a4"/>
<circle cx="77.15" cy="354.41" r="1.7" fill="#a4a4a4"/>
<circle cx="85.21" cy="337.87" r="1.7" fill="#a4a4a4"/>
<circle cx="98.04" cy="332.4" r="1.7" fill="#a4a4a4"/>
<circle cx="102.82" cy="343.47" r="1.7" fill="#a4a4a4"/>
<line x1="75.75" y1="362.77" x2="82.01" y2="356.93" stroke="#4a4a4a" stroke-width="1.2" />
<line x1="74.63" y1="357.83" x2="81.46" y2="354.17" stroke="#4a4a4a" stroke-width="1.2" />
<line x1="75.06" y1="351.99" x2="81.78" y2="350.87" stroke="#4a4a4a" stroke-width="1.2" />
<line x1="77.02" y1="345.83" x2="82.94" y2="347.38" stroke="#4a4a4a" stroke-width="1.2" />
<line x1="80.28" y1="339.99" x2="84.81" y2="344.04" stroke="#4a4a4a" stroke-width="1.2" />
<polygon points="84.08,359.16 118.88,378.09 131.88,355.58 97.08,336.64" fill="url(#gbar3)"/>
<line x1="84.08" y1="359.16" x2="118.88" y2="378.09" stroke="#3a3a3a" stroke-width="0.8" />
<line x1="97.08" y1="336.64" x2="131.88" y2="355.58" stroke="#3a3a3a" stroke-width="0.8" />
<ellipse cx="117.59" cy="362.34" rx="8" ry="15" transform="rotate(30 117.59 362.34)" fill="#666" stroke="#3a3a3a" stroke-width="0.7"/>
<polygon points="110.09,375.33 114.42,377.83 129.42,351.85 125.09,349.35" fill="#666"/>
<line x1="110.09" y1="375.33" x2="114.42" y2="377.83" stroke="#3a3a3a" stroke-width="0.7"/>
<line x1="125.09" y1="349.35" x2="129.42" y2="351.85" stroke="#3a3a3a" stroke-width="0.7"/>
<ellipse cx="121.92" cy="364.84" rx="8" ry="15" transform="rotate(30 121.92 364.84)" fill="#7a7a7a" stroke="#3a3a3a" stroke-width="0.7"/>
<ellipse cx="123.28" cy="364.47" rx="18" ry="30" transform="rotate(30 123.28 364.47)" fill="#626262" stroke="#333" stroke-width="0.8"/>
<polygon points="108.28,390.45 113.04,393.2 143.04,341.24 138.28,338.49" fill="#626262"/>
<line x1="108.28" y1="390.45" x2="113.04" y2="393.2" stroke="#333" stroke-width="0.8"/>
<line x1="138.28" y1="338.49" x2="143.04" y2="341.24" stroke="#333" stroke-width="0.8"/>
<ellipse cx="128.04" cy="367.22" rx="18" ry="30" transform="rotate(30 128.04 367.22)" fill="#767676" stroke="#333" stroke-width="0.8"/>
<circle cx="149.48" cy="352.46" r="3.2" fill="#666" stroke="#333" stroke-width="0.6"/>
<circle cx="138.5" cy="383.5" r="3.2" fill="#666" stroke="#333" stroke-width="0.6"/>
<circle cx="114.18" cy="393.77" r="3.2" fill="#666" stroke="#333" stroke-width="0.6"/>
<circle cx="107.54" cy="370.19" r="3.2" fill="#666" stroke="#333" stroke-width="0.6"/>
<ellipse cx="128.54" cy="367.62" rx="12" ry="21.5" transform="rotate(30 128.54 367.62)" fill="#909090" stroke="#555" stroke-width="0.8"/>
<line x1="140.23" y1="352" x2="137.01" y2="355.71" stroke="#aaa" stroke-width="1.2" />
<line x1="141.28" y1="354.28" x2="137.67" y2="357.34" stroke="#555" stroke-width="1.2" />
<line x1="141.8" y1="357.07" x2="137.96" y2="359.38" stroke="#aaa" stroke-width="1.2" />
<line x1="141.77" y1="360.27" x2="137.84" y2="361.72" stroke="#555" stroke-width="1.2" />
<line x1="141.2" y1="363.74" x2="137.34" y2="364.28" stroke="#aaa" stroke-width="1.2" />
<line x1="140.1" y1="367.36" x2="136.47" y2="366.96" stroke="#555" stroke-width="1.2" />
<line x1="138.52" y1="370.96" x2="135.26" y2="369.65" stroke="#aaa" stroke-width="1.2" />
<line x1="136.52" y1="374.42" x2="133.76" y2="372.25" stroke="#555" stroke-width="1.2" />
<line x1="134.19" y1="377.59" x2="132.03" y2="374.64" stroke="#aaa" stroke-width="1.2" />
<line x1="131.61" y1="380.35" x2="130.15" y2="376.74" stroke="#555" stroke-width="1.2" />
<line x1="128.89" y1="382.59" x2="128.18" y2="378.46" stroke="#aaa" stroke-width="1.2" />
<line x1="126.13" y1="384.21" x2="126.21" y2="379.73" stroke="#555" stroke-width="1.2" />
<ellipse cx="127.54" cy="366.92" rx="6.5" ry="13.5" transform="rotate(30 127.54 366.92)" fill="#a2a2a2"/>
<ellipse cx="127.04" cy="366.62" rx="4.5" ry="10.5" transform="rotate(30 127.04 366.62)" fill="#8e8e8e"/>
<circle cx="27.7" cy="371" r="7.15" fill="#fff" stroke="#454545" stroke-width="1.4"/>
<text transform="translate(27.7 375.6) scale(0.8 1)" font-size="12" text-anchor="middle" letter-spacing="-0.2" stroke="#111" stroke-width="0.35">17</text>
<line x1="35.2" y1="371" x2="55.5" y2="371" stroke="#1c1c1c" stroke-width="1.2" />
<circle cx="57.5" cy="371.6" r="2" fill="#888" stroke="#444" stroke-width="0.6"/>
<line x1="57.5" y1="370" x2="68.7" y2="341.3" stroke="#555" stroke-width="0.9" />
<circle cx="85.5" cy="409.5" r="7.15" fill="#fff" stroke="#454545" stroke-width="1.4"/>
<text transform="translate(85.5 414.1) scale(0.8 1)" font-size="12" text-anchor="middle" letter-spacing="-0.2" stroke="#111" stroke-width="0.35">17</text>
<line x1="93" y1="409.5" x2="112" y2="409.5" stroke="#1c1c1c" stroke-width="1.2" />
<circle cx="114" cy="410" r="2" fill="#888" stroke="#444" stroke-width="0.6"/>
<line x1="113" y1="408" x2="106" y2="372" stroke="#555" stroke-width="0.9" />
<path d="M184.7 473 C184 466 187 458 191.6 451.9 C198 447 205 444 214.8 430.8 C219 425 223 422 230.6 421.3 C236 421 240 423 241.1 428.7 L247.4 431.9 L248 449 L232.7 450.8 L214.8 451.9 C208 454 202 459 199 464.5 C197 468 195.8 471 193 473 C190 475 186 475 184.7 473 Z" fill="#6e6e6e" stroke="#3f3f3f" stroke-width="0.9"/>
<path d="M214.8 451.9 C208 454 202 459 199 464.5 L205 446 C212 440 220 432 228 428 C233 432 236 440 232.7 450.8 Z" fill="#7e7e7e"/>
<ellipse cx="192.3" cy="462.6" rx="3" ry="8" transform="rotate(24 192.3 462.6)" fill="#fff" stroke="#444" stroke-width="0.8"/>
<ellipse cx="232" cy="425.5" rx="8.5" ry="4.5" transform="rotate(-8 232 425.5)" fill="#5c5c5c"/>
<ellipse cx="240" cy="440.4" rx="6.6" ry="11.5" transform="rotate(30 240 440.4)" fill="#808080" stroke="#444" stroke-width="0.8"/>
<ellipse cx="240.8" cy="440.9" rx="4.9" ry="9.2" transform="rotate(30 240.8 440.9)" fill="#5e5e5e" stroke="#4a4a4a" stroke-width="0.6"/>
<polygon points="240.6,433.8 370,507.3 365.5,520.2 236.3,446.2" fill="url(#gsh)"/>
<line x1="240.6" y1="433.8" x2="370" y2="507.3" stroke="#333" stroke-width="0.9"/><line x1="236.3" y1="446.2" x2="365.5" y2="520.2" stroke="#333" stroke-width="0.9"/>
<ellipse cx="367.7" cy="513.7" rx="3.6" ry="6.8" transform="rotate(30 367.7 513.7)" fill="#6e6e6e" stroke="#444" stroke-width="0.6"/>
<ellipse cx="368.5" cy="514.2" rx="3.3" ry="5.9" transform="rotate(30 368.5 514.2)" fill="#767676" stroke="#3a3a3a" stroke-width="0.8"/>
<polygon points="365.55,519.31 379.35,527.31 385.25,517.09 371.45,509.09" fill="#767676"/>
<line x1="365.55" y1="519.31" x2="379.35" y2="527.31" stroke="#3a3a3a" stroke-width="0.8"/>
<line x1="371.45" y1="509.09" x2="385.25" y2="517.09" stroke="#3a3a3a" stroke-width="0.8"/>
<ellipse cx="382.3" cy="522.2" rx="3.3" ry="5.9" transform="rotate(30 382.3 522.2)" fill="#858585" stroke="#3a3a3a" stroke-width="0.8"/>
<circle cx="241.87" cy="445.72" r="0.8" fill="#3a3a3a"/>
<circle cx="235.98" cy="446.09" r="0.8" fill="#3a3a3a"/>
<circle cx="239.53" cy="436.28" r="0.8" fill="#3a3a3a"/>
<circle cx="245.38" cy="435.13" r="0.8" fill="#3a3a3a"/>
<text x="261.2" y="524.5" font-size="13" textLength="66.3" lengthAdjust="spacingAndGlyphs">SM-AX76-B</text>
<circle cx="410.7" cy="504.2" r="7.15" fill="#fff" stroke="#454545" stroke-width="1.4"/>
<text transform="translate(410.7 508.8) scale(0.8 1)" font-size="12" text-anchor="middle" letter-spacing="-0.2" stroke="#111" stroke-width="0.35">18</text>
<line x1="410.7" y1="511.8" x2="410.7" y2="526.3" stroke="#1c1c1c" stroke-width="1.3" />
<line x1="385.2" y1="526.3" x2="394.8" y2="530.9" stroke="#555" stroke-width="1.15" />
<ellipse cx="401" cy="534.4" rx="6" ry="10.5" transform="rotate(30 401 534.4)" fill="#646464" stroke="#333" stroke-width="0.8"/>
<polygon points="395.75,543.49 406.95,549.99 417.45,531.81 406.25,525.31" fill="#646464"/>
<line x1="395.75" y1="543.49" x2="406.95" y2="549.99" stroke="#333" stroke-width="0.8"/>
<line x1="406.25" y1="525.31" x2="417.45" y2="531.81" stroke="#333" stroke-width="0.8"/>
<ellipse cx="412.2" cy="540.9" rx="6" ry="10.5" transform="rotate(30 412.2 540.9)" fill="#7a7a7a" stroke="#333" stroke-width="0.8"/>
<line x1="404.5" y1="528.34" x2="415" y2="534.44" stroke="#4e4e4e" stroke-width="0.9" />
<line x1="402.75" y1="531.37" x2="413.25" y2="537.47" stroke="#4e4e4e" stroke-width="0.9" />
<line x1="401" y1="534.4" x2="411.5" y2="540.5" stroke="#4e4e4e" stroke-width="0.9" />
<line x1="399.25" y1="537.43" x2="409.75" y2="543.53" stroke="#4e4e4e" stroke-width="0.9" />
<line x1="397.5" y1="540.46" x2="408" y2="546.56" stroke="#4e4e4e" stroke-width="0.9" />
<ellipse cx="412.4" cy="541" rx="3.9" ry="7.3" transform="rotate(30 412.4 541)" fill="#8e8e8e" stroke="#555" stroke-width="0.6"/>
<ellipse cx="412.8" cy="541.3" rx="2.5" ry="5" transform="rotate(30 412.8 541.3)" fill="#a2a2a2"/>
</svg></body></html>
